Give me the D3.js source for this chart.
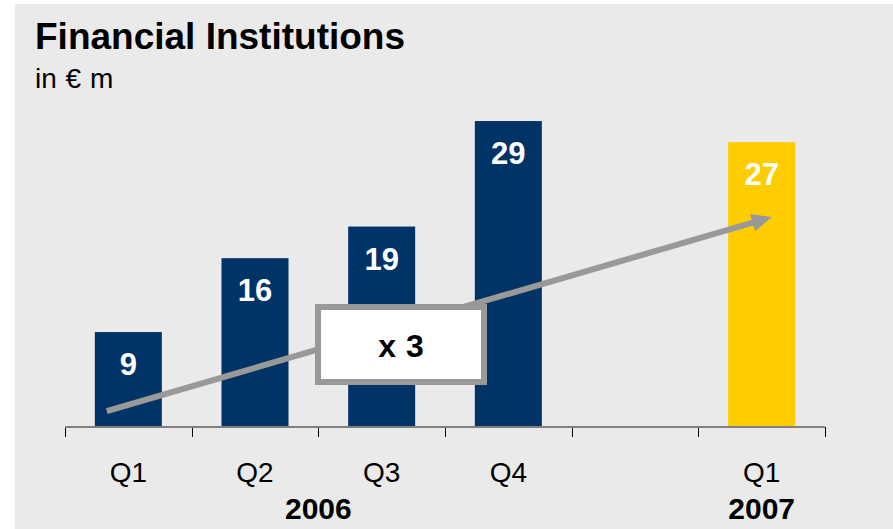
<!DOCTYPE html>
<html>
<head>
<meta charset="utf-8">
<script src="https://cdn.jsdelivr.net/npm/d3@7"></script>
<style>
  html, body { margin: 0; padding: 0; background: #ffffff; }
  svg { display: block; font-family: "Liberation Sans", Arial, sans-serif; }
</style>
</head>
<body>
<svg id="chart" width="893" height="529"></svg>
<script>
// Quarterly figures, € m
const slots = ["q1_06", "q2_06", "q3_06", "q4_06", "gap", "q1_07"];
const quarterLabels = ["Q1", "Q2", "Q3", "Q4", "", "Q1"];
const values = [9, 16, 19, 29, null, 27];
const barColors = ["#003366", "#003366", "#003366", "#003366", null, "#ffcc00"];
const yearLabels = ["2006", "2007"];
const yearSpans = [["q1_06", "q4_06"], ["q1_07", "q1_07"]];
const growthLabel = "x 3";
// trend arrow, from/to in chart units (slot, offset within band, value)
const trendFrom = ["q1_06", -0.17, 1.5];
const trendTo = ["q1_07", 0.08, 19.9];

const svg = d3.select("#chart");
const W = 893, H = 529;

// grey panel
svg.append("rect").attr("x", 15).attr("y", 4).attr("width", W - 15).attr("height", H - 4)
  .attr("fill", "#eaeaea");

// title
svg.append("text").attr("x", 35).attr("y", 49)
  .attr("font-size", 37).attr("font-weight", "bold").attr("fill", "#000")
  .text("Financial Institutions");
svg.append("text").attr("x", 35).attr("y", 88)
  .attr("font-size", 28).attr("word-spacing", 1).attr("fill", "#000")
  .text("in € m");

const x = d3.scaleBand().domain(slots).range([65, 825]).padding(0);
const y = d3.scaleLinear().domain([0, 30]).range([427, 110.5]);
const barW = 67;

const bars = slots.map((s, i) => ({ slot: s, value: values[i], color: barColors[i] }))
  .filter(d => d.value != null);

svg.append("g").selectAll("rect").data(bars).join("rect")
  .attr("x", d => x(d.slot) + x.bandwidth() / 2 - barW / 2)
  .attr("y", d => y(d.value))
  .attr("width", barW)
  .attr("height", d => y(0) - y(d.value))
  .attr("fill", d => d.color);

svg.append("g").selectAll("text").data(bars).join("text")
  .attr("x", d => x(d.slot) + x.bandwidth() / 2)
  .attr("y", d => y(d.value) + 43)
  .attr("text-anchor", "middle")
  .attr("font-size", 31).attr("font-weight", "bold").attr("fill", "#ffffff")
  .text(d => d.value);

// axis baseline with ticks at band edges
const edges = slots.map(s => x(s)).concat([x(slots[slots.length - 1]) + x.bandwidth()]);
svg.append("g").selectAll("line").data(edges).join("line")
  .attr("x1", d => Math.round(d) + 0.5).attr("x2", d => Math.round(d) + 0.5)
  .attr("y1", 427).attr("y2", 437)
  .attr("stroke", "#000").attr("stroke-width", 1);
svg.append("line").attr("x1", 65).attr("x2", 825).attr("y1", 427).attr("y2", 427)
  .attr("stroke", "#808080").attr("stroke-width", 2);

// quarter labels
const xAxis = d3.axisBottom(x).tickSize(0).tickFormat((d, i) => quarterLabels[i]);
const gx = svg.append("g").attr("transform", "translate(0,427)").call(xAxis);
gx.select(".domain").remove();
gx.selectAll("text").attr("y", 0).attr("dy", 0)
  .attr("transform", "translate(0,55)")
  .attr("font-family", "Liberation Sans, Arial, sans-serif")
  .attr("font-size", 28).attr("fill", "#000");

// year labels
svg.append("g").selectAll("text").data(yearLabels).join("text")
  .attr("x", (d, i) => {
    const a = x(yearSpans[i][0]) + x.bandwidth() / 2;
    const b = x(yearSpans[i][1]) + x.bandwidth() / 2;
    return (a + b) / 2;
  })
  .attr("y", 519)
  .attr("text-anchor", "middle")
  .attr("font-size", 30).attr("font-weight", "bold").attr("fill", "#000")
  .text(d => d);

// trend arrow
const px = p => x(p[0]) + x.bandwidth() / 2 + p[1] * x.bandwidth();
const x1 = px(trendFrom), y1 = y(trendFrom[2]);
const x2 = px(trendTo), y2 = y(trendTo[2]);
const ang = Math.atan2(y2 - y1, x2 - x1);
const headLen = 20, headHalf = 9;
const bx = x2 - headLen * Math.cos(ang), by = y2 - headLen * Math.sin(ang);
svg.append("line").attr("x1", x1).attr("y1", y1).attr("x2", bx + 2 * Math.cos(ang)).attr("y2", by + 2 * Math.sin(ang))
  .attr("stroke", "#999999").attr("stroke-width", 6);
svg.append("path")
  .attr("d", d3.line()([
    [x2, y2],
    [bx + headHalf * Math.sin(ang), by - headHalf * Math.cos(ang)],
    [bx - headHalf * Math.sin(ang), by + headHalf * Math.cos(ang)]
  ]) + "Z")
  .attr("fill", "#999999");

// growth box
svg.append("rect").attr("x", 318).attr("y", 307).attr("width", 166).attr("height", 75)
  .attr("fill", "#ffffff").attr("stroke", "#999999").attr("stroke-width", 6);
svg.append("text").attr("x", 401).attr("y", 357)
  .attr("text-anchor", "middle")
  .attr("font-size", 32).attr("font-weight", "bold").attr("word-spacing", 1).attr("fill", "#000")
  .text(growthLabel);
</script>
</body>
</html>
